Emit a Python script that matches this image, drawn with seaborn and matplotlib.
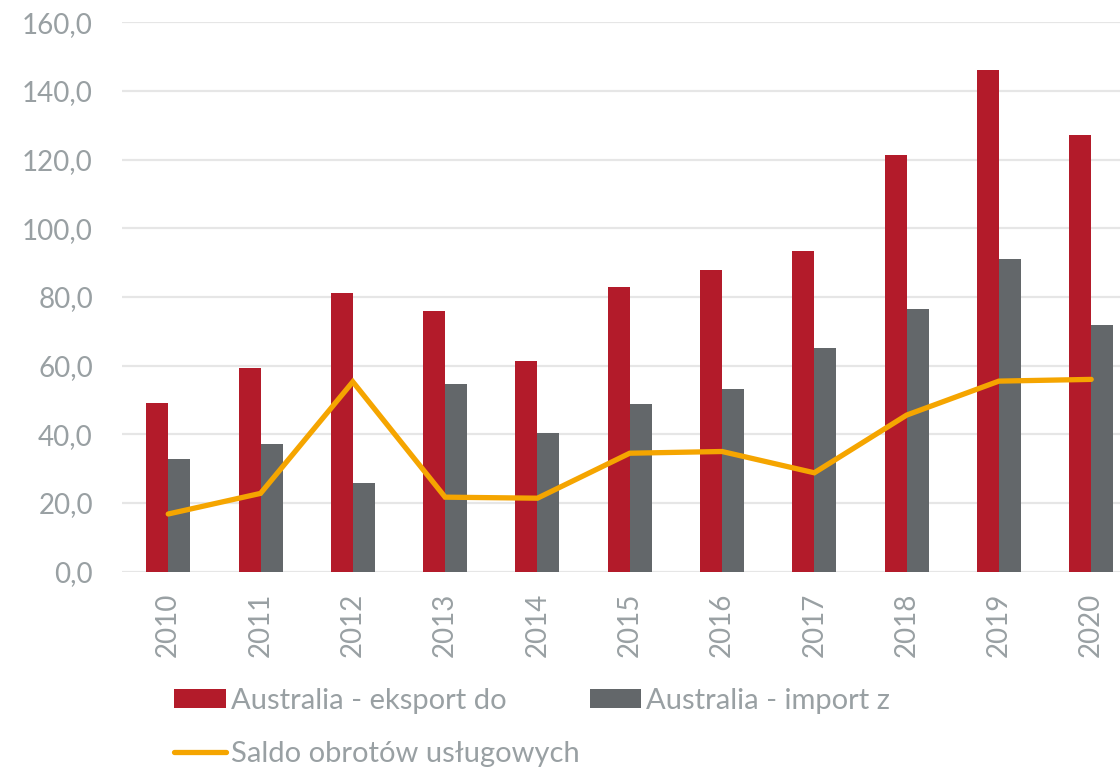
import numpy as np
import pandas as pd
import matplotlib
matplotlib.use("Agg")
import matplotlib.pyplot as plt
import seaborn as sns
from matplotlib.ticker import FuncFormatter

# data (mln, rounded)
years = ['2010', '2011', '2012', '2013', '2014', '2015', '2016', '2017', '2018', '2019', '2020']
eksport = [49.2, 59.3, 81.1, 76.0, 61.4, 82.8, 87.8, 93.4, 121.4, 146.1, 127.3]
import_z = [32.7, 37.1, 25.9, 54.6, 40.5, 48.8, 53.2, 65.1, 76.4, 91.0, 71.7]
saldo = [16.8, 22.8, 55.3, 21.7, 21.4, 34.5, 35.0, 28.8, 45.6, 55.5, 56.0]

lbl_exp = 'Australia - eksport do'
lbl_imp = 'Australia - import z'
lbl_saldo = 'Saldo obrotów usługowych'

RED = '#B31B2A'
GRAY = '#63676A'
ORANGE = '#F5A500'
TEXT = '#99A0A3'
GRID = '#E6E6E6'

sns.set_theme(style='white')
plt.rcParams['font.family'] = ['Lato', 'DejaVu Sans']

bars = pd.DataFrame({
    'rok': years * 2,
    'wartosc': eksport + import_z,
    'seria': [lbl_exp] * len(years) + [lbl_imp] * len(years),
})
line = pd.DataFrame({'rok': years, 'wartosc': saldo})

fig = plt.figure(figsize=(11.2, 7.69), dpi=100)
ax = fig.add_axes([0.109, 0.2566, 0.9065, 0.7144])

sns.barplot(data=bars, x='rok', y='wartosc', hue='seria', order=years,
            palette=[RED, GRAY], width=0.477, gap=0, saturation=1,
            edgecolor='none', ax=ax, zorder=2)
sns.lineplot(data=line, x='rok', y='wartosc', color=ORANGE, linewidth=3.8,
             label=lbl_saldo, ax=ax, zorder=3, solid_joinstyle='miter')

ax.set_xlim(-0.5, 10.5)
ax.set_ylim(0, 160)
ax.set_yticks(np.arange(0, 161, 20))
ax.yaxis.set_major_formatter(FuncFormatter(lambda v, p: f'{v:.1f}'.replace('.', ',')))
ax.grid(axis='y', color=GRID, linewidth=1.6, zorder=0)
ax.set_axisbelow(True)
for s in ax.spines.values():
    s.set_visible(False)
ax.set_xlabel('')
ax.set_ylabel('')
ax.tick_params(axis='y', length=0, pad=21, labelsize=20, labelcolor=TEXT)
ax.tick_params(axis='x', length=0, pad=15, labelsize=20, labelcolor=TEXT, labelrotation=90)

# legend in row order: eksport, import / saldo
h, l = ax.get_legend_handles_labels()
d = dict(zip(l, h))
ax.get_legend().remove()
fig.legend([d[lbl_exp], d[lbl_saldo], d[lbl_imp]], [lbl_exp, lbl_saldo, lbl_imp],
           ncol=2, loc='upper left', bbox_to_anchor=(174 / 1120, 1 - 688 / 769),
           frameon=False, fontsize=21, labelcolor=TEXT, borderpad=0, borderaxespad=0,
           handlelength=1.78, handleheight=0.62, handletextpad=0.17,
           columnspacing=0.34, labelspacing=0.92)

fig.savefig('out.png', dpi=100)
